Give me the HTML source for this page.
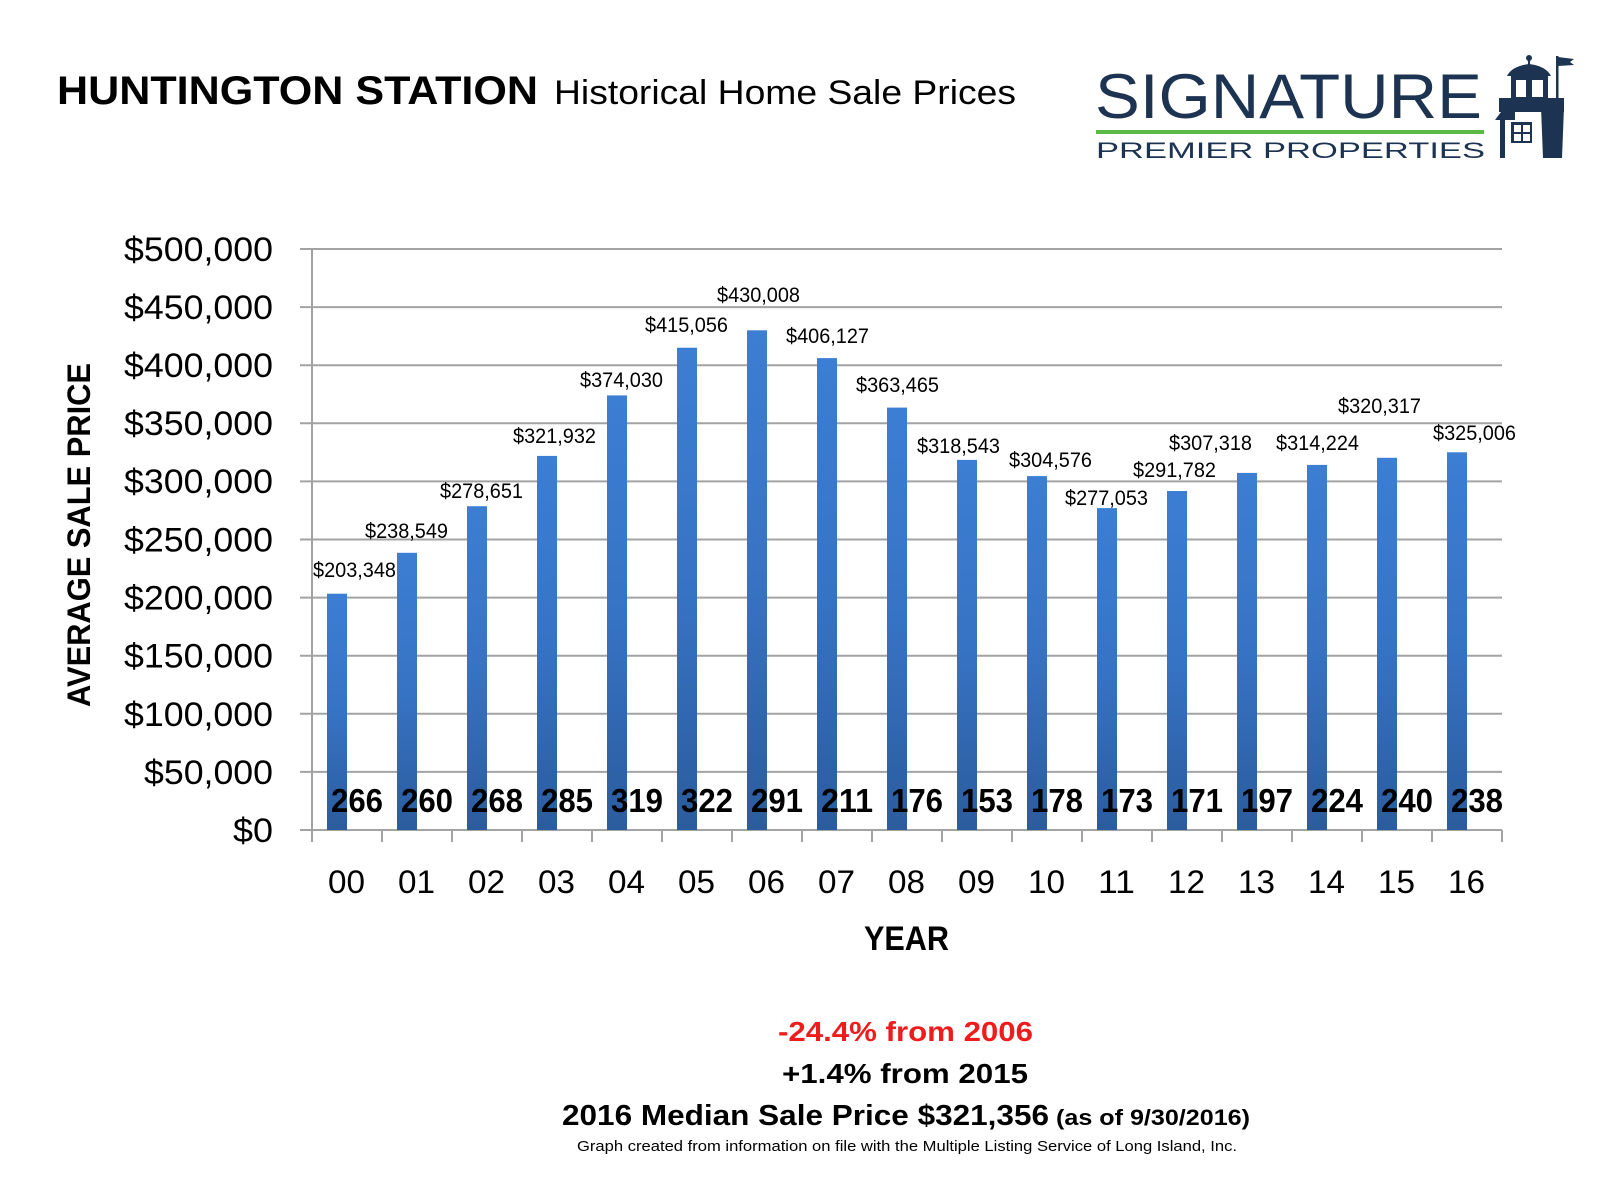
<!DOCTYPE html>
<html>
<head>
<meta charset="utf-8">
<style>
  html,body{margin:0;padding:0;background:#fff;}
  svg{display:block;}
  text{font-family:"Liberation Sans", Arial, sans-serif;}
</style>
</head>
<body>
<svg width="1600" height="1200" viewBox="0 0 1600 1200" xmlns="http://www.w3.org/2000/svg">
  <defs>
    <linearGradient id="bg" x1="0" y1="0" x2="0" y2="1">
      <stop offset="0" stop-color="#3c7ed3"/>
      <stop offset="0.5" stop-color="#3773c4"/>
      <stop offset="1" stop-color="#2b5c9d"/>
    </linearGradient>
  </defs>
  <rect width="1600" height="1200" fill="#fff"/>

  <!-- Title -->
  <text x="57" y="104" font-size="40" font-weight="bold" fill="#000" textLength="481" lengthAdjust="spacingAndGlyphs">HUNTINGTON STATION</text>
  <text x="554" y="104" font-size="34" fill="#000" textLength="462" lengthAdjust="spacingAndGlyphs">Historical Home Sale Prices</text>

  <!-- Logo -->
  <text x="1095" y="118" font-size="63" fill="#1d3352" textLength="387" lengthAdjust="spacingAndGlyphs">SIGNATURE</text>
  <rect x="1096" y="130" width="388" height="4" fill="#5bb946"/>
  <text x="1096" y="158" font-size="22" fill="#1d3352" textLength="389" lengthAdjust="spacingAndGlyphs">PREMIER PROPERTIES</text>
  <!-- lighthouse -->
  <g fill="#1d3352">
    <rect x="1556" y="56" width="2.5" height="46"/>
    <polygon points="1558,57 1574,59 1570,62 1574,65 1558,66"/>
    <circle cx="1529" cy="58" r="3"/>
    <rect x="1528" y="60" width="2" height="5"/>
    <path d="M1507,76 Q1512,66 1529,64 Q1546,66 1551,76 Z"/>
    <rect x="1511" y="75" width="37" height="25"/>
    <rect x="1499" y="98" width="65" height="9"/>
    <rect x="1499" y="107" width="65" height="5"/>
    <polygon points="1495,120 1501,112 1515,112 1515,120"/>
    <rect x="1500" y="120" width="5" height="38"/>
    <rect x="1511" y="122" width="21" height="21"/>
    <polygon points="1541,107 1564,107 1562,158 1543,158"/>
  </g>
  <g fill="#fff">
    <rect x="1516" y="80" width="10" height="17"/>
    <rect x="1532" y="80" width="11" height="17"/>
    <rect x="1514" y="125" width="7" height="7"/>
    <rect x="1523" y="125" width="7" height="7"/>
    <rect x="1514" y="134" width="7" height="7"/>
    <rect x="1523" y="134" width="7" height="7"/>
  </g>

  <!-- Gridlines -->
  <g stroke="#a3a3a3" stroke-width="2">
    <line x1="300" y1="249" x2="1502" y2="249"/>
    <line x1="300" y1="307.1" x2="1502" y2="307.1"/>
    <line x1="300" y1="365.2" x2="1502" y2="365.2"/>
    <line x1="300" y1="423.3" x2="1502" y2="423.3"/>
    <line x1="300" y1="481.4" x2="1502" y2="481.4"/>
    <line x1="300" y1="539.5" x2="1502" y2="539.5"/>
    <line x1="300" y1="597.6" x2="1502" y2="597.6"/>
    <line x1="300" y1="655.7" x2="1502" y2="655.7"/>
    <line x1="300" y1="713.8" x2="1502" y2="713.8"/>
    <line x1="300" y1="771.9" x2="1502" y2="771.9"/>
    <line x1="300" y1="830" x2="1502" y2="830"/>
    <line x1="312" y1="249" x2="312" y2="830"/>
  </g>
  <!-- category ticks -->
  <g stroke="#a3a3a3" stroke-width="2">
    <line x1="312" y1="830" x2="312" y2="842"/>
    <line x1="382" y1="830" x2="382" y2="842"/>
    <line x1="452" y1="830" x2="452" y2="842"/>
    <line x1="522" y1="830" x2="522" y2="842"/>
    <line x1="592" y1="830" x2="592" y2="842"/>
    <line x1="662" y1="830" x2="662" y2="842"/>
    <line x1="732" y1="830" x2="732" y2="842"/>
    <line x1="802" y1="830" x2="802" y2="842"/>
    <line x1="872" y1="830" x2="872" y2="842"/>
    <line x1="942" y1="830" x2="942" y2="842"/>
    <line x1="1012" y1="830" x2="1012" y2="842"/>
    <line x1="1082" y1="830" x2="1082" y2="842"/>
    <line x1="1152" y1="830" x2="1152" y2="842"/>
    <line x1="1222" y1="830" x2="1222" y2="842"/>
    <line x1="1292" y1="830" x2="1292" y2="842"/>
    <line x1="1362" y1="830" x2="1362" y2="842"/>
    <line x1="1432" y1="830" x2="1432" y2="842"/>
    <line x1="1502" y1="830" x2="1502" y2="842"/>
  </g>

  <!-- Y axis labels -->
  <g font-size="34" fill="#000">
    <text x="124" y="261" textLength="149" lengthAdjust="spacingAndGlyphs">$500,000</text>
    <text x="124" y="319" textLength="149" lengthAdjust="spacingAndGlyphs">$450,000</text>
    <text x="124" y="377" textLength="149" lengthAdjust="spacingAndGlyphs">$400,000</text>
    <text x="124" y="435" textLength="149" lengthAdjust="spacingAndGlyphs">$350,000</text>
    <text x="124" y="493" textLength="149" lengthAdjust="spacingAndGlyphs">$300,000</text>
    <text x="124" y="551.5" textLength="149" lengthAdjust="spacingAndGlyphs">$250,000</text>
    <text x="124" y="609.6" textLength="149" lengthAdjust="spacingAndGlyphs">$200,000</text>
    <text x="124" y="667.7" textLength="149" lengthAdjust="spacingAndGlyphs">$150,000</text>
    <text x="124" y="725.8" textLength="149" lengthAdjust="spacingAndGlyphs">$100,000</text>
    <text x="144" y="783.9" textLength="129" lengthAdjust="spacingAndGlyphs">$50,000</text>
    <text x="233" y="842" textLength="40" lengthAdjust="spacingAndGlyphs">$0</text>
  </g>

  <!-- Y axis title -->
  <text transform="translate(90,535) rotate(-90)" text-anchor="middle" font-size="32" font-weight="bold" fill="#000" textLength="344" lengthAdjust="spacingAndGlyphs">AVERAGE SALE PRICE</text>

  <!-- Bars -->
  <g fill="url(#bg)">
    <rect x="327" y="593.7" width="20" height="236.3"/>
    <rect x="397" y="552.8" width="20" height="277.2"/>
    <rect x="467" y="506.2" width="20" height="323.8"/>
    <rect x="537" y="455.9" width="20" height="374.1"/>
    <rect x="607" y="395.4" width="20" height="434.6"/>
    <rect x="677" y="347.7" width="20" height="482.3"/>
    <rect x="747" y="330.3" width="20" height="499.7"/>
    <rect x="817" y="358.1" width="20" height="471.9"/>
    <rect x="887" y="407.6" width="20" height="422.4"/>
    <rect x="957" y="459.9" width="20" height="370.1"/>
    <rect x="1027" y="476.1" width="20" height="353.9"/>
    <rect x="1097" y="508.1" width="20" height="321.9"/>
    <rect x="1167" y="491.0" width="20" height="339.0"/>
    <rect x="1237" y="472.9" width="20" height="357.1"/>
    <rect x="1307" y="464.9" width="20" height="365.1"/>
    <rect x="1377" y="457.8" width="20" height="372.2"/>
    <rect x="1447" y="452.3" width="20" height="377.7"/>
  </g>

  <!-- Value labels -->
  <g font-size="21" fill="#000">
    <text x="313" y="577" textLength="83" lengthAdjust="spacingAndGlyphs">$203,348</text>
    <text x="365" y="538" textLength="83" lengthAdjust="spacingAndGlyphs">$238,549</text>
    <text x="440" y="498" textLength="83" lengthAdjust="spacingAndGlyphs">$278,651</text>
    <text x="513" y="443" textLength="83" lengthAdjust="spacingAndGlyphs">$321,932</text>
    <text x="580" y="387" textLength="83" lengthAdjust="spacingAndGlyphs">$374,030</text>
    <text x="645" y="332" textLength="83" lengthAdjust="spacingAndGlyphs">$415,056</text>
    <text x="717" y="302" textLength="83" lengthAdjust="spacingAndGlyphs">$430,008</text>
    <text x="786" y="343" textLength="83" lengthAdjust="spacingAndGlyphs">$406,127</text>
    <text x="856" y="392" textLength="83" lengthAdjust="spacingAndGlyphs">$363,465</text>
    <text x="917" y="453" textLength="83" lengthAdjust="spacingAndGlyphs">$318,543</text>
    <text x="1009" y="467" textLength="83" lengthAdjust="spacingAndGlyphs">$304,576</text>
    <text x="1065" y="505" textLength="83" lengthAdjust="spacingAndGlyphs">$277,053</text>
    <text x="1133" y="477" textLength="83" lengthAdjust="spacingAndGlyphs">$291,782</text>
    <text x="1169" y="450" textLength="83" lengthAdjust="spacingAndGlyphs">$307,318</text>
    <text x="1276" y="450" textLength="83" lengthAdjust="spacingAndGlyphs">$314,224</text>
    <text x="1338" y="413" textLength="83" lengthAdjust="spacingAndGlyphs">$320,317</text>
    <text x="1433" y="440" textLength="83" lengthAdjust="spacingAndGlyphs">$325,006</text>
  </g>

  <!-- Count labels -->
  <g font-size="33" font-weight="bold" fill="#000">
    <text x="331" y="812" textLength="52" lengthAdjust="spacingAndGlyphs">266</text>
    <text x="401" y="812" textLength="52" lengthAdjust="spacingAndGlyphs">260</text>
    <text x="471" y="812" textLength="52" lengthAdjust="spacingAndGlyphs">268</text>
    <text x="541" y="812" textLength="52" lengthAdjust="spacingAndGlyphs">285</text>
    <text x="611" y="812" textLength="52" lengthAdjust="spacingAndGlyphs">319</text>
    <text x="681" y="812" textLength="52" lengthAdjust="spacingAndGlyphs">322</text>
    <text x="751" y="812" textLength="52" lengthAdjust="spacingAndGlyphs">291</text>
    <text x="821" y="812" textLength="52" lengthAdjust="spacingAndGlyphs">211</text>
    <text x="891" y="812" textLength="52" lengthAdjust="spacingAndGlyphs">176</text>
    <text x="961" y="812" textLength="52" lengthAdjust="spacingAndGlyphs">153</text>
    <text x="1031" y="812" textLength="52" lengthAdjust="spacingAndGlyphs">178</text>
    <text x="1101" y="812" textLength="52" lengthAdjust="spacingAndGlyphs">173</text>
    <text x="1171" y="812" textLength="52" lengthAdjust="spacingAndGlyphs">171</text>
    <text x="1241" y="812" textLength="52" lengthAdjust="spacingAndGlyphs">197</text>
    <text x="1311" y="812" textLength="52" lengthAdjust="spacingAndGlyphs">224</text>
    <text x="1381" y="812" textLength="52" lengthAdjust="spacingAndGlyphs">240</text>
    <text x="1451" y="812" textLength="52" lengthAdjust="spacingAndGlyphs">238</text>
  </g>

  <!-- X labels -->
  <g font-size="32" fill="#000">
    <text x="328" y="893" textLength="37" lengthAdjust="spacingAndGlyphs">00</text>
    <text x="398" y="893" textLength="37" lengthAdjust="spacingAndGlyphs">01</text>
    <text x="468" y="893" textLength="37" lengthAdjust="spacingAndGlyphs">02</text>
    <text x="538" y="893" textLength="37" lengthAdjust="spacingAndGlyphs">03</text>
    <text x="608" y="893" textLength="37" lengthAdjust="spacingAndGlyphs">04</text>
    <text x="678" y="893" textLength="37" lengthAdjust="spacingAndGlyphs">05</text>
    <text x="748" y="893" textLength="37" lengthAdjust="spacingAndGlyphs">06</text>
    <text x="818" y="893" textLength="37" lengthAdjust="spacingAndGlyphs">07</text>
    <text x="888" y="893" textLength="37" lengthAdjust="spacingAndGlyphs">08</text>
    <text x="958" y="893" textLength="37" lengthAdjust="spacingAndGlyphs">09</text>
    <text x="1028" y="893" textLength="37" lengthAdjust="spacingAndGlyphs">10</text>
    <text x="1098" y="893" textLength="37" lengthAdjust="spacingAndGlyphs">11</text>
    <text x="1168" y="893" textLength="37" lengthAdjust="spacingAndGlyphs">12</text>
    <text x="1238" y="893" textLength="37" lengthAdjust="spacingAndGlyphs">13</text>
    <text x="1308" y="893" textLength="37" lengthAdjust="spacingAndGlyphs">14</text>
    <text x="1378" y="893" textLength="37" lengthAdjust="spacingAndGlyphs">15</text>
    <text x="1448" y="893" textLength="37" lengthAdjust="spacingAndGlyphs">16</text>
  </g>

  <!-- X title -->
  <text x="864" y="950" font-size="34" font-weight="bold" fill="#000" textLength="85" lengthAdjust="spacingAndGlyphs">YEAR</text>

  <!-- Bottom text -->
  <text x="778" y="1041" font-size="28" font-weight="bold" fill="#ee1c1c" textLength="255" lengthAdjust="spacingAndGlyphs">-24.4% from 2006</text>
  <text x="782" y="1083" font-size="28" font-weight="bold" fill="#000" textLength="246" lengthAdjust="spacingAndGlyphs">+1.4% from 2015</text>
  <text x="562" y="1125" font-size="29" font-weight="bold" fill="#000" textLength="487" lengthAdjust="spacingAndGlyphs">2016 Median Sale Price $321,356</text>
  <text x="1056" y="1125" font-size="22" font-weight="bold" fill="#000" textLength="194" lengthAdjust="spacingAndGlyphs">(as of 9/30/2016)</text>
  <text x="577" y="1151" font-size="15" fill="#000" textLength="660" lengthAdjust="spacingAndGlyphs">Graph created from information on file with the Multiple Listing Service of Long Island, Inc.</text>
</svg>
</body>
</html>
